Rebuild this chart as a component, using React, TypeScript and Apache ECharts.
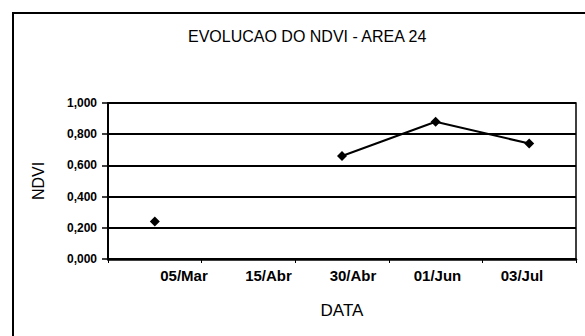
import React, { useEffect, useRef } from "react";
import * as echarts from "echarts";

const titleText = "EVOLUCAO DO NDVI - AREA 24";
const xAxisName = "DATA";
const yAxisName = "NDVI";
const categories = ["05/Mar", "15/Abr", "30/Abr", "01/Jun", "03/Jul"];
const ndviValues: (number | null)[] = [0.24, null, 0.66, 0.88, 0.74];
const yMin = 0;
const yMax = 1;
const yStep = 0.2;

const FONT = "'Liberation Sans', Arial, sans-serif";

export default function App() {
  const ref = useRef<HTMLDivElement>(null);
  useEffect(() => {
    if (!ref.current) return;
    const chart = echarts.init(ref.current, null, { renderer: "svg" });
    chart.setOption({
      animation: false,
      backgroundColor: "#ffffff",
      title: {
        text: titleText,
        left: 183,
        top: 23,
        textStyle: { fontFamily: FONT, fontSize: 16, fontWeight: "normal", color: "#000" },
      },
      graphic: [
        {
          type: "rect",
          shape: { x: 13, y: 13, width: 640, height: 400 },
          style: { fill: "none", stroke: "#000", lineWidth: 2 },
          silent: true,
        },
      ],
      grid: [
        {
          left: 108,
          top: 103,
          width: 468,
          height: 156,
          show: true,
          borderColor: "#000",
          borderWidth: 1.5,
          containLabel: false,
        },
        {
          left: 141.75,
          top: 103,
          width: 422.5,
          height: 156,
          show: false,
          containLabel: false,
        },
      ],
      xAxis: [
        {
          type: "category",
          gridIndex: 0,
          data: categories,
          boundaryGap: true,
          name: xAxisName,
          nameLocation: "middle",
          nameGap: 43,
          nameTextStyle: { fontFamily: FONT, fontSize: 17, color: "#000", verticalAlign: "top" },
          axisLine: { show: true, lineStyle: { color: "#000", width: 2.5 } },
          axisTick: { show: true, length: 4, lineStyle: { color: "#000", width: 1 } },
          axisLabel: { show: false },
          splitLine: { show: false },
        },
        {
          type: "category",
          gridIndex: 1,
          data: categories,
          boundaryGap: true,
          axisLine: { show: false },
          axisTick: { show: false },
          axisLabel: {
            show: true,
            margin: 9,
            fontFamily: FONT,
            fontSize: 15,
            fontWeight: "bold",
            color: "#000",
          },
          splitLine: { show: false },
        },
      ],
      yAxis: [
        {
          type: "value",
          gridIndex: 0,
          min: yMin,
          max: yMax,
          interval: yStep,
          name: yAxisName,
          nameLocation: "middle",
          nameGap: 62,
          nameRotate: 90,
          nameTextStyle: { fontFamily: FONT, fontSize: 16, color: "#000" },
          axisLine: { show: true, lineStyle: { color: "#000", width: 2 } },
          axisTick: { show: true, inside: false, length: 6, lineStyle: { color: "#000", width: 1.5 } },
          axisLabel: {
            margin: 11,
            fontFamily: FONT,
            fontSize: 12,
            fontWeight: "bold",
            color: "#000",
            formatter: (v: number) => v.toFixed(3).replace(".", ","),
          },
          splitLine: { show: true, lineStyle: { color: "#000", width: 2 } },
        },
        {
          type: "value",
          gridIndex: 1,
          min: yMin,
          max: yMax,
          show: false,
          splitLine: { show: false },
        },
      ],
      series: [
        {
          type: "line",
          xAxisIndex: 0,
          yAxisIndex: 0,
          data: ndviValues,
          connectNulls: false,
          symbol: "diamond",
          symbolSize: 10,
          showSymbol: true,
          itemStyle: { color: "#000" },
          lineStyle: { color: "#000", width: 2 },
        },
      ],
    });
    return () => chart.dispose();
  }, []);
  return (
    <div
      ref={ref}
      style={{ position: "fixed", left: 0, top: 0, width: 585, height: 336, background: "#fff" }}
    />
  );
}
